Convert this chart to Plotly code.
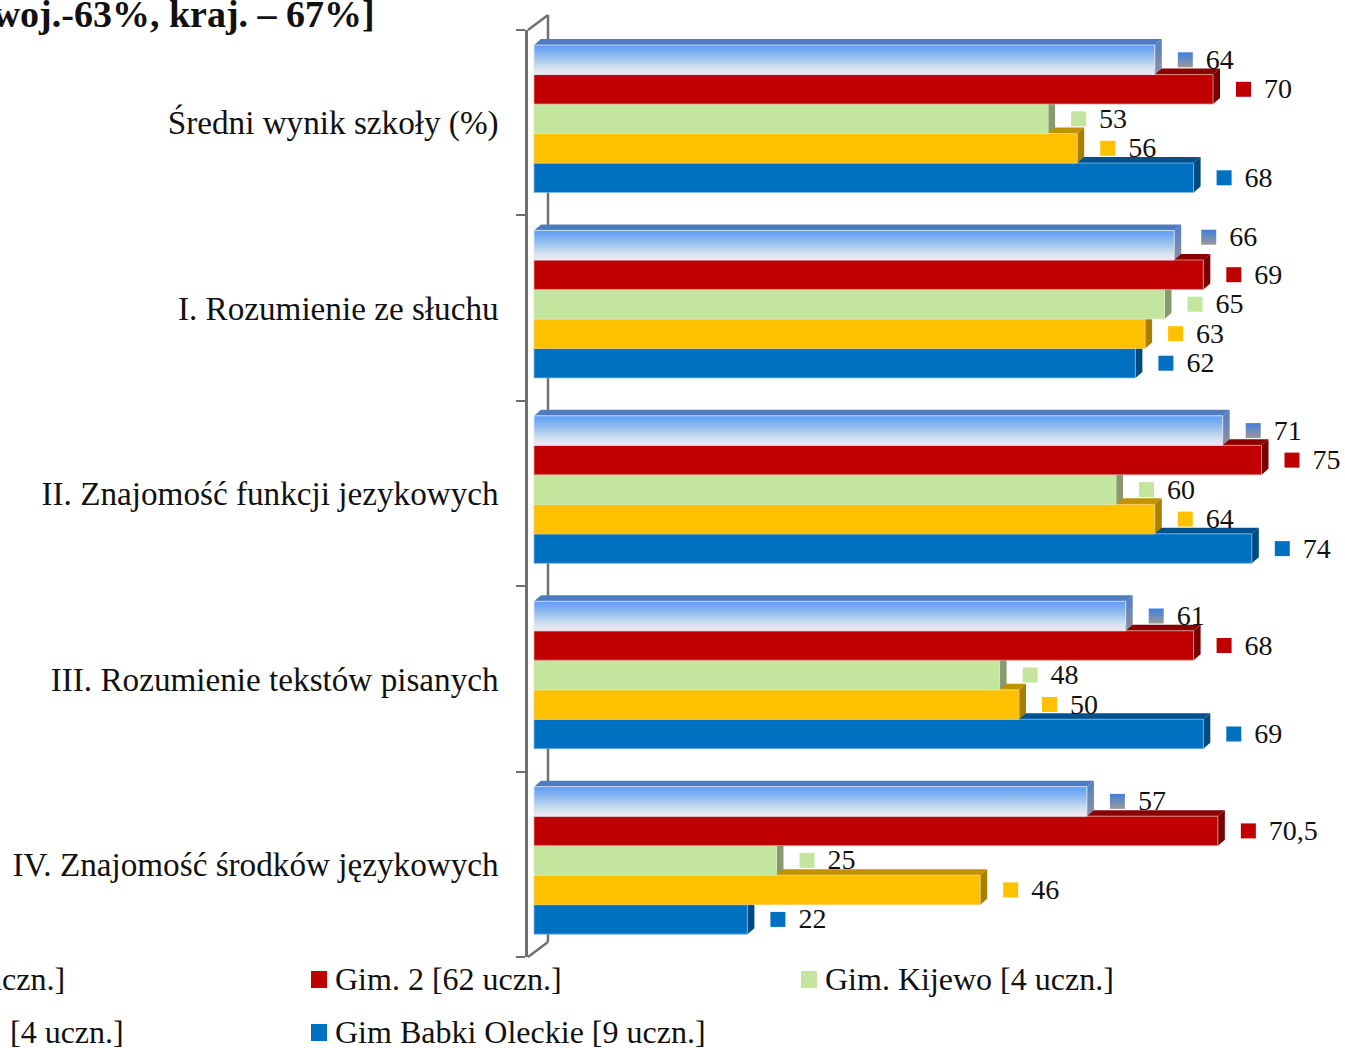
# -*- coding: utf-8 -*-
import plotly.graph_objects as go

# -- Dane ----------------------------------------------------------------------
kategorie = [
    "Średni wynik szkoły (%)",
    "I. Rozumienie ze słuchu",
    "II. Znajomość funkcji jezykowych",
    "III. Rozumienie tekstów pisanych",
    "IV. Znajomość środków językowych",
]
gim_1 = [64, 66, 71, 61, 57]
gim_2 = [70, 69, 75, 68, 70.5]
gim_kijewo = [53, 65, 60, 48, 25]
gim_4 = [56, 63, 64, 50, 46]
gim_babki = [68, 62, 74, 69, 22]

tytul = "[woj.-63%, kraj. – 67%]"
legenda_1 = "uczn.]"
legenda_2 = "Gim. 2 [62 uczn.]"
legenda_3 = "Gim. Kijewo [4 uczn.]"
legenda_4 = "[4 uczn.]"
legenda_5 = "Gim Babki Oleckie [9 uczn.]"

# -- Konfiguracja --------------------------------------------------------------
W, H = 1345, 1048
LEFT, RIGHT, TOP, BOTTOM = 528, W, 30, 957
PX_X = 9.7      # pikseli na jednostke osi x
PX_Y = (BOTTOM - TOP) / 5
FONT = "Liberation Serif"
SZARY = "#707070"

serie = [
    dict(val=gim_1, front=None, bok="#7d93bd", gora="#4f7cc0", krawedz="#dfe6f5"),
    dict(val=gim_2, front="#c00000", bok="#7a0000", gora="#8a0000", krawedz="#e0a0a0"),
    dict(val=gim_kijewo, front="#c4e59d", bok="#87996f", gora="#87996f", krawedz="#d8eec0"),
    dict(val=gim_4, front="#ffc000", bok="#a87f00", gora="#c29200", krawedz="#f0d070"),
    dict(val=gim_babki, front="#0070c0", bok="#004a80", gora="#00528f", krawedz="#80b8e0"),
]

h_bar = 29.5 / PX_Y
dx = 7 / PX_X       # glebokosc 3D
dy = 6 / PX_Y
przes_y = -3.9 / PX_Y
GRAD = [[0, "#f3e9f7"], [0.25, "#cfe0ee"], [0.65, "#8db9ef"], [1, "#5d9cf7"]]
GRAD_BOK = [[0, "#8f8f9f"], [1, "#4f80c8"]]


def px(x):
    return (x - LEFT) / (RIGHT - LEFT)


def py(y):
    return (BOTTOM - y) / (BOTTOM - TOP)


def srodek(i, s):
    return i + (s - 2) * h_bar + przes_y


fig = go.Figure()

# od dolnej serii do gornej, gorne przykrywaja sciany dolnych
for s in range(4, -1, -1):
    d = serie[s]
    for i, v in enumerate(d["val"]):
        g = srodek(i, s) - h_bar / 2
        b = srodek(i, s) + h_bar / 2
        fig.add_trace(go.Scatter(
            x=[0, v, v + dx, dx, 0], y=[g, g, g - dy, g - dy, g],
            mode="lines", fill="toself", fillcolor=d["gora"],
            line=dict(width=0), hoverinfo="skip",
        ))
        bok = dict(fillcolor=d["bok"]) if d["front"] else dict(
            fillgradient=dict(type="vertical", colorscale=GRAD_BOK))
        fig.add_trace(go.Scatter(
            x=[v, v + dx, v + dx, v, v], y=[g, g - dy, b - dy, b, g],
            mode="lines", fill="toself",
            line=dict(width=0), hoverinfo="skip", **bok,
        ))
        front = dict(fillcolor=d["front"]) if d["front"] else dict(
            fillgradient=dict(type="vertical", colorscale=GRAD))
        fig.add_trace(go.Scatter(
            x=[0, v, v, 0, 0], y=[g, g, b, b, g], name=kategorie[i],
            mode="lines", fill="toself",
            line=dict(width=0.8, color=d["krawedz"]), hoverinfo="skip", **front,
        ))

# etykiety wartosci: kwadrat + liczba
for s, d in enumerate(serie):
    ys = [srodek(i, s) for i in range(5)]
    xs = list(d["val"])
    if s == 0:
        # etykieta 66 jest przesunieta na oryginale
        ys[1] -= 8 / PX_Y
        xs[1] += 4 / PX_X
    kolor = d["front"] or "#3f7fe0"
    marker = dict(symbol="square", size=15, color=kolor, line=dict(width=0))
    if s == 0:
        marker["gradient"] = dict(type="vertical", color="#999999")
    fig.add_trace(go.Scatter(
        x=[v + 30.5 / PX_X for v in xs], y=ys, mode="markers",
        marker=marker, hoverinfo="skip",
    ))
    fig.add_trace(go.Scatter(
        x=[v + 51 / PX_X for v in xs], y=[y + 2 / PX_Y for y in ys], mode="text",
        text=[str(v).replace(".", ",") for v in d["val"]],
        textposition="middle right",
        textfont=dict(family=FONT, size=28, color="#111111"), hoverinfo="skip",
    ))

# sciana tylna osi
ksztalty = []
for x0, y0, x1, y1 in [(548, 15, 548, 942), (528, 30, 548, 15), (528, 957, 548, 942)]:
    ksztalty.append(dict(
        type="line", xref="paper", yref="paper", layer="below",
        x0=px(x0), y0=py(y0), x1=px(x1), y1=py(y1),
        line=dict(color=SZARY, width=2.5),
    ))

# legenda
napisy = []
wpisy = [
    (None, 67, 979, legenda_1, "right"),
    ("#c00000", 333, 979, legenda_2, "left"),
    ("#c4e59d", 823, 979, legenda_3, "left"),
    (None, 126, 1032, legenda_4, "right"),
    ("#0070c0", 333, 1032, legenda_5, "left"),
]
for kolor, x, y, tekst, anchor in wpisy:
    if kolor:
        ksztalty.append(dict(
            type="rect", xref="paper", yref="paper", line=dict(width=0), fillcolor=kolor,
            x0=px(x - 22), x1=px(x - 6), y0=py(y - 8), y1=py(y + 9),
        ))
    napisy.append(dict(
        text=tekst, xref="paper", yref="paper", x=px(x), y=py(y), showarrow=False,
        xanchor=anchor, yanchor="middle", font=dict(family=FONT, size=32, color="#111111"),
    ))

napisy.append(dict(
    text=f"<b>{tytul}</b>", xref="paper", yref="paper", x=px(377), y=py(14), showarrow=False,
    xanchor="right", yanchor="middle", font=dict(family=FONT, size=38, color="#111111"),
))

fig.update_layout(
    width=W, height=H,
    margin=dict(l=LEFT, r=W - RIGHT, t=TOP, b=H - BOTTOM, pad=0),
    paper_bgcolor="white", plot_bgcolor="rgba(0,0,0,0)",
    showlegend=False,
    shapes=ksztalty, annotations=napisy,
    xaxis=dict(range=[(LEFT - 534) / PX_X, (RIGHT - 534) / PX_X], visible=False),
    yaxis=dict(
        range=[4.5, -0.5], tickmode="array", tickvals=list(range(5)), ticktext=kategorie,
        showgrid=False, zeroline=False, showline=True, linecolor=SZARY, linewidth=2.5,
        ticks="", ticklabelstandoff=20, tickfont=dict(family=FONT, size=33.2, color="#111111"),
        minor=dict(tickmode="array", tickvals=[-0.5, 0.5, 1.5, 2.5, 3.5, 4.5],
                   ticks="outside", ticklen=9, tickwidth=2, tickcolor=SZARY),
    ),
)

fig.write_html(
    "out.html",
    config=dict(displayModeBar=False),
    post_script="document.body.style.margin='0';document.body.style.overflow='hidden';",
)
